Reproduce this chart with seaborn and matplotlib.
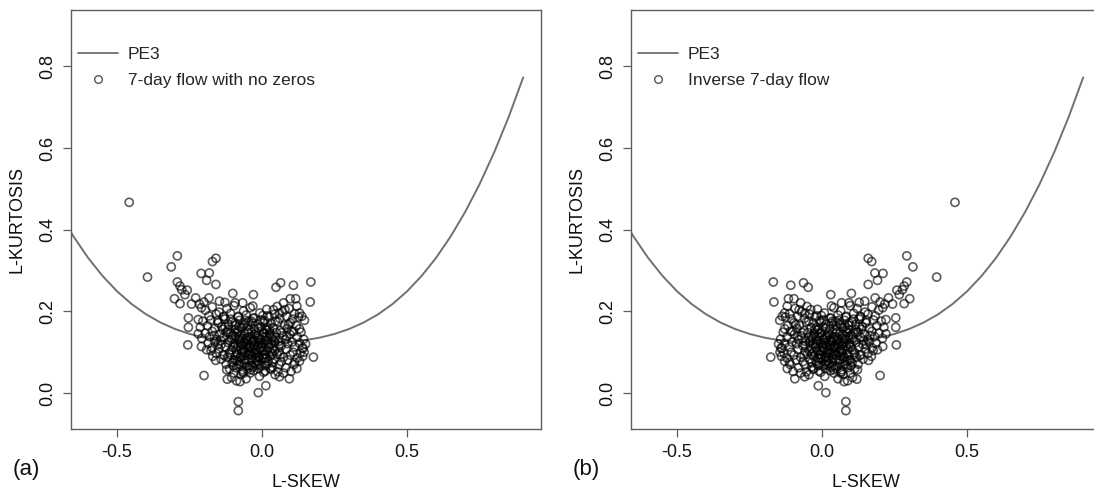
import matplotlib
matplotlib.use("Agg")
import matplotlib.pyplot as plt
from matplotlib.lines import Line2D
import seaborn as sns
import pandas as pd

# ---------------- data ----------------
# PE3 theoretical curve (L-skew, L-kurtosis)
pe3_skew = [-0.70, -0.65, -0.60, -0.55, -0.50, -0.45, -0.40, -0.35, -0.30, -0.25,
            -0.20, -0.15, -0.10, -0.05, 0.00, 0.05, 0.10, 0.15, 0.20, 0.25,
            0.30, 0.35, 0.40, 0.45, 0.50, 0.55, 0.60, 0.65, 0.70, 0.75,
            0.80, 0.85, 0.90]
pe3_kurt = [0.4435, 0.3835, 0.3314, 0.2869, 0.2493, 0.2182, 0.1929, 0.1727, 0.1569, 0.1448,
            0.1359, 0.1297, 0.1255, 0.1232, 0.1224, 0.1232, 0.1255, 0.1297, 0.1359, 0.1448,
            0.1569, 0.1727, 0.1929, 0.2182, 0.2493, 0.2869, 0.3314, 0.3835, 0.4435, 0.5120,
            0.5894, 0.6761, 0.7729]

# scattered (outer) sites, panel (a): 7-day flow with no zeros
outer_skew = [-0.458, -0.395, -0.292, -0.313, -0.159, -0.171, -0.210, -0.182, -0.191, -0.159,
              -0.292, -0.283, -0.277, -0.258, -0.266, -0.302, -0.283, -0.229, -0.243, -0.216,
              -0.200, -0.183, -0.209, -0.147, -0.128, -0.254, -0.254, -0.220, -0.256, -0.220,
              -0.200, -0.122, -0.120, -0.130, -0.082, -0.082, -0.013, 0.013, -0.055, -0.076,
              -0.105, -0.009, 0.094, 0.100, 0.177, 0.140, 0.142, 0.129, 0.074, 0.045,
              0.028, 0.005, -0.041, -0.064, 0.048, 0.064, 0.108, 0.168, 0.166, -0.101,
              -0.030, 0.097, 0.116, 0.074, 0.079, 0.120, 0.129, 0.137, 0.146, 0.129,
              -0.093, -0.067, -0.032, 0.039, 0.059, 0.091, 0.102, 0.085, -0.088, 0.060,
              0.150, 0.145, -0.209, -0.191, -0.170, -0.160, 0.120, 0.110]
outer_kurt = [0.467, 0.284, 0.336, 0.309, 0.330, 0.322, 0.293, 0.294, 0.276, 0.266,
              0.272, 0.262, 0.253, 0.252, 0.241, 0.231, 0.219, 0.233, 0.218, 0.218,
              0.223, 0.233, 0.209, 0.225, 0.222, 0.184, 0.161, 0.180, 0.118, 0.145,
              0.043, 0.057, 0.034, 0.092, -0.021, -0.043, 0.001, 0.018, 0.035, 0.028,
              0.038, 0.041, 0.035, 0.053, 0.088, 0.090, 0.110, 0.078, 0.049, 0.045,
              0.061, 0.051, 0.057, 0.049, 0.259, 0.270, 0.264, 0.272, 0.223, 0.244,
              0.241, 0.231, 0.231, 0.221, 0.204, 0.213, 0.196, 0.188, 0.178, 0.157,
              0.221, 0.221, 0.213, 0.204, 0.196, 0.168, 0.151, 0.139, 0.030, 0.040,
              0.120, 0.100, 0.114, 0.106, 0.090, 0.080, 0.060, 0.070]

# dense core of the cloud, panel (a)
core_skew = [
    -0.195, -0.172, -0.148, -0.121, -0.097, -0.064, -0.041, -0.008, 0.016, 0.052,
    0.071, 0.093, 0.112, -0.183, -0.158, -0.134, -0.109, -0.083, -0.055, -0.027,
    0.003, 0.024, 0.043, 0.061, 0.084, 0.105, 0.126, -0.204, -0.177, -0.151,
    -0.128, -0.103, -0.078, -0.061, -0.036, -0.014, 0.009, 0.031, 0.054, 0.078,
    0.097, 0.118, -0.213, -0.189, -0.163, -0.139, -0.117, -0.092, -0.071, -0.048,
    -0.026, -0.004, 0.017, 0.038, 0.063, 0.087, 0.109, 0.134, -0.196, -0.172,
    -0.146, -0.124, -0.101, -0.083, -0.059, -0.037, -0.018, 0.006, 0.027, 0.049,
    0.072, 0.095, 0.121, 0.143, -0.208, -0.181, -0.157, -0.133, -0.112, -0.091,
    -0.069, -0.047, -0.028, -0.009, 0.012, 0.033, 0.058, 0.081, 0.104, 0.129,
    -0.186, -0.163, -0.141, -0.118, -0.096, -0.076, -0.054, -0.033, -0.015, 0.004,
    0.022, 0.044, 0.066, 0.088, 0.113, 0.138, -0.172, -0.149, -0.127, -0.104,
    -0.084, -0.062, -0.041, -0.021, -0.002, 0.017, 0.038, 0.059, 0.083, 0.107,
    0.131, -0.158, -0.134, -0.113, -0.091, -0.069, -0.049, -0.029, -0.011, 0.008,
    0.029, 0.051, 0.074, 0.097, 0.121, -0.141, -0.119, -0.097, -0.077, -0.056,
    -0.036, -0.017, 0.002, 0.021, 0.043, 0.066, 0.089, 0.112, -0.124, -0.103,
    -0.082, -0.061, -0.042, -0.023, -0.004, 0.016, 0.036, 0.059, 0.081, -0.112,
    -0.089, -0.068, -0.048, -0.029, -0.011, 0.011, 0.031, 0.054, -0.097, -0.073,
    -0.092, -0.078, -0.066, -0.052, -0.038, -0.025, -0.012, 0.001, 0.015, 0.028,
    -0.087, -0.073, -0.058, -0.044, -0.031, -0.019, -0.005, 0.009, 0.023, 0.037,
    -0.081, -0.064, -0.051, -0.034, -0.022, -0.007, 0.005, 0.019, -0.095, -0.107,
    -0.071, -0.056, -0.043, -0.029, -0.016, -0.002, 0.012, -0.085, -0.063, -0.047,
    -0.033, -0.019, 0.003, 0.025, 0.046, -0.116, -0.135, -0.152, -0.165, -0.176,
    -0.099, -0.086, -0.074, -0.061, -0.048, -0.035, -0.021, -0.009, 0.004, 0.018,
    0.031, 0.044, -0.104, -0.091, -0.079, -0.067, -0.053, -0.039, -0.026, -0.013,
    0.001, 0.014, 0.027, 0.041, -0.118, -0.093, -0.071, -0.046, -0.024, 0.008,
    -0.111, -0.088, -0.059, -0.037, -0.014, 0.012, 0.035, 0.057, -0.128, -0.143,
    -0.153, -0.131, -0.108, -0.082, -0.057, -0.031, -0.006, 0.019, 0.046, 0.068,
    -0.077, -0.054, -0.032, -0.010, 0.013, 0.036, 0.062, -0.099, -0.066, -0.041,
]
core_kurt = [
    0.203, 0.211, 0.198, 0.207, 0.214, 0.201, 0.209, 0.196, 0.205, 0.212,
    0.199, 0.207, 0.194, 0.189, 0.193, 0.186, 0.195, 0.188, 0.191, 0.184,
    0.190, 0.186, 0.193, 0.183, 0.188, 0.181, 0.186, 0.176, 0.179, 0.172,
    0.181, 0.174, 0.178, 0.170, 0.176, 0.169, 0.177, 0.171, 0.174, 0.166,
    0.172, 0.165, 0.161, 0.165, 0.158, 0.163, 0.155, 0.166, 0.159, 0.164,
    0.157, 0.162, 0.154, 0.160, 0.153, 0.158, 0.151, 0.149, 0.147, 0.151,
    0.144, 0.149, 0.142, 0.152, 0.145, 0.150, 0.141, 0.147, 0.143, 0.148,
    0.140, 0.144, 0.137, 0.132, 0.134, 0.138, 0.131, 0.136, 0.129, 0.139,
    0.133, 0.137, 0.130, 0.135, 0.128, 0.134, 0.127, 0.131, 0.125, 0.122,
    0.122, 0.126, 0.119, 0.124, 0.118, 0.127, 0.121, 0.125, 0.117, 0.123,
    0.119, 0.124, 0.116, 0.121, 0.113, 0.110, 0.111, 0.108, 0.113, 0.106,
    0.114, 0.107, 0.112, 0.105, 0.111, 0.104, 0.109, 0.102, 0.107, 0.100,
    0.098, 0.097, 0.094, 0.099, 0.092, 0.098, 0.093, 0.097, 0.090, 0.096,
    0.091, 0.095, 0.088, 0.093, 0.086, 0.083, 0.087, 0.081, 0.086, 0.080,
    0.085, 0.079, 0.084, 0.078, 0.083, 0.077, 0.081, 0.075, 0.071, 0.074,
    0.069, 0.073, 0.067, 0.072, 0.066, 0.071, 0.064, 0.069, 0.062, 0.059,
    0.062, 0.057, 0.061, 0.055, 0.060, 0.054, 0.058, 0.052, 0.049, 0.046,
    0.155, 0.139, 0.117, 0.128, 0.101, 0.143, 0.088, 0.118, 0.139, 0.102,
    0.096, 0.121, 0.099, 0.116, 0.126, 0.098, 0.131, 0.086, 0.112, 0.138,
    0.131, 0.091, 0.149, 0.108, 0.084, 0.109, 0.149, 0.127, 0.121, 0.146,
    0.106, 0.133, 0.095, 0.116, 0.135, 0.103, 0.094, 0.078, 0.167, 0.081,
    0.171, 0.068, 0.175, 0.157, 0.137, 0.168, 0.156, 0.119, 0.141, 0.104,
    0.112, 0.148, 0.088, 0.124, 0.155, 0.092, 0.147, 0.124, 0.093, 0.162,
    0.121, 0.104, 0.132, 0.081, 0.163, 0.102, 0.111, 0.137, 0.118, 0.158,
    0.137, 0.084, 0.148, 0.127, 0.149, 0.172, 0.143, 0.176, 0.097, 0.104,
    0.094, 0.107, 0.082, 0.127, 0.076, 0.156, 0.096, 0.117, 0.162, 0.129,
    0.178, 0.188, 0.181, 0.186, 0.178, 0.183, 0.179, 0.189, 0.176, 0.148,
    0.071, 0.066, 0.063, 0.071, 0.067, 0.074, 0.093, 0.067, 0.052, 0.049,
]

x_ticks = [-0.5, 0.0, 0.5]
y_ticks = [0.0, 0.2, 0.4, 0.6, 0.8]
x_tick_labels = ["-0.5", "0.0", "0.5"]
y_tick_labels = ["0.0", "0.2", "0.4", "0.6", "0.8"]
panel_tags = ["(a)", "(b)"]
series_labels = ["7-day flow with no zeros", "Inverse 7-day flow"]

# ---------------- assemble ----------------
skew_a = outer_skew + core_skew
kurt_a = outer_kurt + core_kurt
# inverse flow mirrors the L-skew
skew_b = [-v for v in skew_a]
kurt_b = list(kurt_a)

df_curve = pd.DataFrame({"skew": pe3_skew, "kurt": pe3_kurt})
df_a = pd.DataFrame({"skew": skew_a, "kurt": kurt_a})
df_b = pd.DataFrame({"skew": skew_b, "kurt": kurt_b})

# ---------------- style ----------------
sns.set_style("white")
plt.rcParams["font.family"] = ["Liberation Sans", "DejaVu Sans"]

W, H = 1094, 492
fig = plt.figure(figsize=(W / 100, H / 100), dpi=100)

spine_col = "#5e5e5e"
curve_col = "#707070"

axes_px = [(70.6, 10.0, 470.0, 419.0), (630.6, 10.0, 470.0, 419.0)]

for i, (df, (lx, ty, w, h)) in enumerate(zip([df_a, df_b], axes_px)):
    ax = fig.add_axes([lx / W, 1 - (ty + h) / H, w / W, h / H])
    sns.lineplot(data=df_curve, x="skew", y="kurt", ax=ax, color=curve_col,
                 linewidth=1.4, sort=False, estimator=None, legend=False)
    ax.scatter(df["skew"], df["kurt"], s=34, facecolors="none",
               edgecolors=(0, 0, 0, 0.64), linewidths=1.2, zorder=3)
    ax.set_xlim(-0.66, 0.96)
    ax.set_ylim(-0.088, 0.938)
    ax.set_xticks(x_ticks)
    ax.set_xticklabels(x_tick_labels)
    ax.set_yticks(y_ticks)
    ax.set_yticklabels(y_tick_labels, rotation=90, va="center")
    ax.tick_params(axis="both", direction="out", length=5.5, width=0.9,
                   color=spine_col, labelsize=13, labelcolor="#111111",
                   bottom=True, left=True, top=False, right=False)
    ax.tick_params(axis="x", pad=5)
    ax.tick_params(axis="y", pad=5)
    for sp in ax.spines.values():
        sp.set_visible(True)
        sp.set_color(spine_col)
        sp.set_linewidth(1.0)
    ax.set_xlabel("L-SKEW", fontsize=13, color="#111111")
    ax.set_ylabel("L-KURTOSIS", fontsize=13, color="#111111")
    ax.xaxis.set_label_coords(0.5, -0.107)
    ax.yaxis.set_label_coords(-0.095, 0.5)

    handles = [Line2D([], [], color=curve_col, linewidth=1.3),
               Line2D([], [], linestyle="none", marker="o", markersize=5.5,
                      markerfacecolor="none", markeredgecolor="#555555", markeredgewidth=1.0)]
    ax.legend(handles, ["PE3", series_labels[i]], loc="upper left",
              bbox_to_anchor=(0.016, 0.912), frameon=False, fontsize=12.5,
              handlelength=2.3, handletextpad=0.55, labelspacing=0.62,
              borderpad=0, borderaxespad=0)

    fig.text((lx - 58) / W, 1 - 470 / H, panel_tags[i], fontsize=16,
             ha="left", va="center", color="#111111")

fig.savefig("out.png", dpi=100)
